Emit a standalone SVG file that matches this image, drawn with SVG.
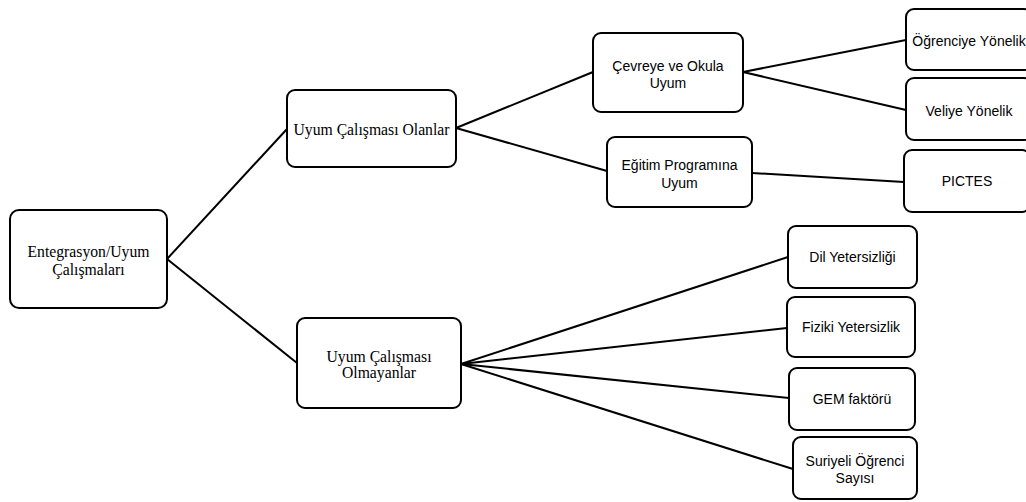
<svg xmlns="http://www.w3.org/2000/svg" width="1026" height="502" viewBox="0 0 1026 502">
<style>
.box{fill:#fff;stroke:#000;stroke-width:2}
.edge{stroke:#000;stroke-width:2;fill:none}
.serif{font-family:"Liberation Serif","Times New Roman",serif;font-size:15.7px;fill:#000;text-anchor:middle}
.sans{font-family:"Liberation Sans",Arial,sans-serif;font-size:14px;fill:#000;text-anchor:middle}
</style>
<rect width="1026" height="502" fill="#fff"/>
<g id="connectors">
<line class="edge" x1="167" y1="259" x2="287" y2="129"/>
<line class="edge" x1="167" y1="259" x2="297" y2="363"/>
<line class="edge" x1="456" y1="128" x2="593" y2="72"/>
<line class="edge" x1="456" y1="128" x2="607" y2="171"/>
<line class="edge" x1="743" y1="72" x2="906" y2="40"/>
<line class="edge" x1="743" y1="72" x2="906" y2="110"/>
<line class="edge" x1="752" y1="173" x2="904" y2="182"/>
<line class="edge" x1="461" y1="364" x2="788" y2="257"/>
<line class="edge" x1="461" y1="364" x2="787" y2="328"/>
<line class="edge" x1="461" y1="364" x2="789" y2="398"/>
<line class="edge" x1="461" y1="364" x2="793" y2="469"/>
</g>
<g id="n-entegrasyon">
<rect class="box" x="10" y="210" width="157" height="98" rx="9"/>
<text class="serif" x="88.5" y="257">Entegrasyon/Uyum</text>
<text class="serif" x="88.5" y="275">Çalışmaları</text>
</g>
<g id="n-olanlar">
<rect class="box" x="287" y="90" width="169" height="77" rx="8"/>
<text class="serif" x="371.5" y="135">Uyum Çalışması Olanlar</text>
</g>
<g id="n-olmayanlar">
<rect class="box" x="297" y="318" width="164" height="90" rx="8"/>
<text class="serif" x="379" y="362">Uyum Çalışması</text>
<text class="serif" x="379" y="378">Olmayanlar</text>
</g>
<g id="n-cevreye">
<rect class="box" x="593" y="33" width="150" height="79" rx="8"/>
<text class="sans" x="668" y="71">Çevreye ve Okula</text>
<text class="sans" x="668" y="87.5">Uyum</text>
</g>
<g id="n-egitim">
<rect class="box" x="607" y="137" width="145" height="70" rx="8"/>
<text class="sans" x="679.5" y="169.5">Eğitim Programına</text>
<text class="sans" x="679.5" y="187.5">Uyum</text>
</g>
<g id="n-ogrenciye">
<rect class="box" x="906" y="9" width="126" height="61" rx="8"/>
<text class="sans" x="969" y="46">Öğrenciye Yönelik</text>
</g>
<g id="n-veliye">
<rect class="box" x="906" y="78" width="126" height="62" rx="8"/>
<text class="sans" x="969" y="116">Veliye Yönelik</text>
</g>
<g id="n-pictes">
<rect class="box" x="904" y="150" width="126" height="62" rx="8"/>
<text class="sans" x="967" y="186">PICTES</text>
</g>
<g id="n-dil">
<rect class="box" x="788" y="226" width="129" height="62" rx="8"/>
<text class="sans" x="852.5" y="262">Dil Yetersizliği</text>
</g>
<g id="n-fiziki">
<rect class="box" x="787" y="297" width="128" height="60" rx="8"/>
<text class="sans" x="851" y="332">Fiziki Yetersizlik</text>
</g>
<g id="n-gem">
<rect class="box" x="789" y="368" width="126" height="62" rx="8"/>
<text class="sans" x="852" y="404">GEM faktörü</text>
</g>
<g id="n-suriyeli">
<rect class="box" x="793" y="437" width="124" height="62" rx="8"/>
<text class="sans" x="855" y="466">Suriyeli Öğrenci</text>
<text class="sans" x="855" y="483">Sayısı</text>
</g>
</svg>
